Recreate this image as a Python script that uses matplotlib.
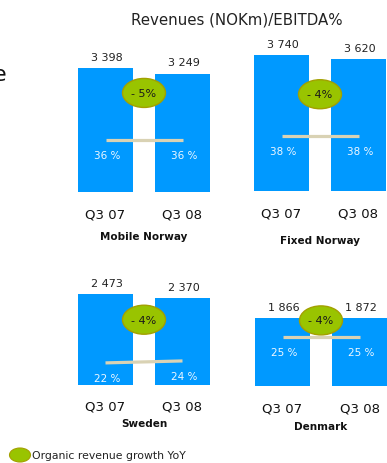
import matplotlib
matplotlib.use("Agg")
import matplotlib.pyplot as plt
from matplotlib.patches import Ellipse

W, H = 387, 464

panels = ["Mobile Norway", "Fixed Norway", "Sweden", "Denmark"]
periods = ["Q3 07", "Q3 08"]
revenue = [[3398, 3249], [3740, 3620], [2473, 2370], [1866, 1872]]
ebitda = [[36, 36], [38, 38], [22, 24], [25, 25]]
growth = ["- 5%", "- 4%", "- 4%", "- 4%"]

# layout per panel: axes left px, baseline px (from top), ebitda ylim top,
# ellipse centre (axes frac), title offset below baseline px
layout = [
    (67, 193, 113, 0.604, 44),
    (243, 192, 113, 0.59, 48.7),
    (67, 385.5, 167, 0.395, 38.5),
    (244, 387, 83, 0.40, 39.7),
]

BLUE = "#0099ff"
GREEN = "#99c400"
GREEN_EDGE = "#a3a000"
LINE = "#d9d2b4"

fig = plt.figure(figsize=(W / 100, H / 100), dpi=100)
plt.rcParams["font.family"] = ["DejaVu Sans"]

AX_W, AX_H = 154, 164

for i, name in enumerate(panels):
    left, base, ptop, ey, toff = layout[i]
    ax = fig.add_axes([left / W, (H - base) / H, AX_W / W, AX_H / H])
    ax.set_xlim(-0.5, 1.5)
    ax.set_ylim(0, 4500)
    x = [0, 1]
    ax.bar(x, revenue[i], width=0.714, color=BLUE)
    for xi, v in zip(x, revenue[i]):
        s = f"{v:,}".replace(",", " ")
        ax.annotate(s, (xi, v), xytext=(1, 8), textcoords="offset points",
                    ha="center", va="center", fontsize=8, color="#222222")
    ax.set_xticks(x)
    ax.set_xticklabels(periods, fontsize=9.5, color="#111111")
    ax.tick_params(axis="x", length=0, pad=11)
    ax.set_yticks([])
    for sp in ax.spines.values():
        sp.set_visible(False)
    ax.patch.set_alpha(0)

    ax.text(0.5, -toff / AX_H, name, transform=ax.transAxes, ha="center",
            va="center", fontsize=7.5, fontweight="bold", color="#111111")

    ax2 = ax.twinx()
    ax2.set_ylim(0, ptop)
    ax2.set_xlim(-0.5, 1.5)
    ax2.axis("off")
    ax2.plot(x, ebitda[i], color=LINE, lw=2.3, solid_capstyle="butt")
    for xi, p in zip(x, ebitda[i]):
        ax2.annotate(f"{p} %", (xi, p), xytext=(1, -11), textcoords="offset points",
                     ha="center", va="center", fontsize=7.5, color="#eef7ff")
    ell = Ellipse((0.5, ey), 43 / AX_W, 29 / AX_H, transform=ax2.transAxes,
                  facecolor=GREEN, edgecolor=GREEN_EDGE, lw=1, zorder=5)
    ax2.add_patch(ell)
    ax2.text(0.5, ey, growth[i], transform=ax2.transAxes, ha="center",
             va="center", fontsize=8, color="#1a1a1a", zorder=6)

fig.text(237 / W, 1 - 20 / H, "Revenues (NOKm)/EBITDA%", ha="center",
         va="center", fontsize=10.8, color="#222222")
# word fragment clipped at the left edge, as in the source slide
fig.text(6 / W, 1 - 75 / H, "e", ha="right", va="center", fontsize=16,
         color="#111111")

# legend
fig.patches.append(Ellipse((20 / W, 1 - 456 / H), 21 / W, 14 / H,
                           transform=fig.transFigure, facecolor=GREEN,
                           edgecolor=GREEN_EDGE, lw=0.8))
fig.text(32 / W, 1 - 456.5 / H, "Organic revenue growth YoY", ha="left",
         va="center", fontsize=7.8, color="#222222")

fig.savefig("out.png", dpi=100)
